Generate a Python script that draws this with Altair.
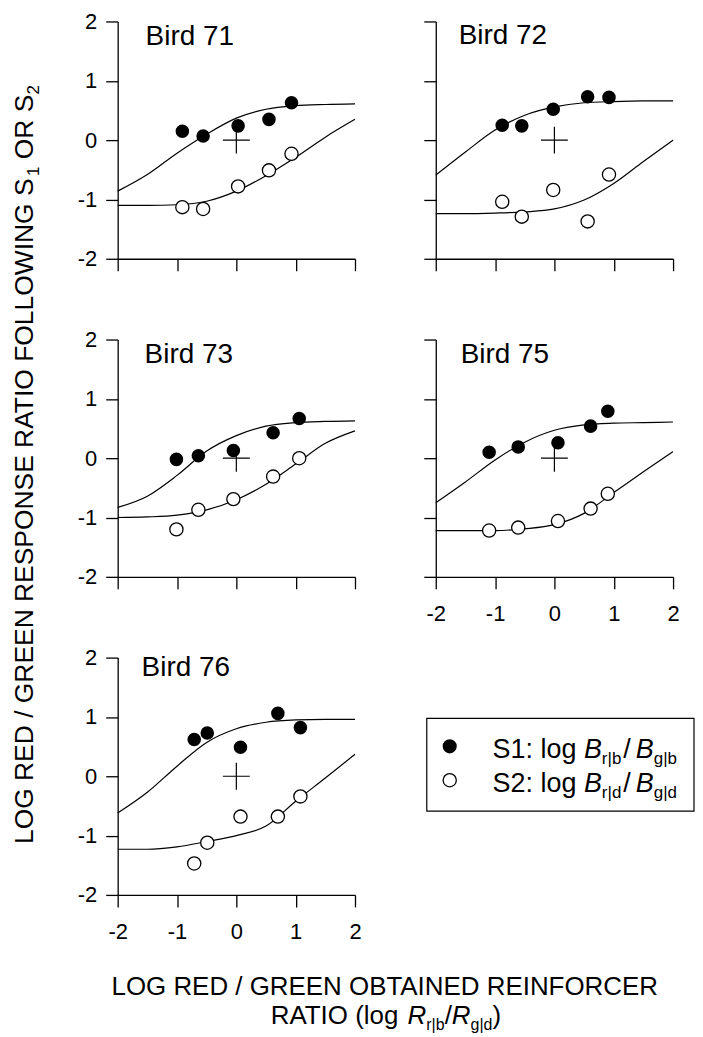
import altair as alt
import pandas as pd

FONT = "Liberation Sans"
W = 238
H = 238

# ---------------- data ----------------
curve_x = [-2.0, -1.5, -1.0, -0.5, 0.0, 0.5, 1.0, 1.5, 2.0]
ticks = [-2, -1, 0, 1, 2]
cross_x = [0.0]
cross_y = [0.0]

# Bird 71
x71 = [-0.91, -0.56, 0.03, 0.55, 0.93]
s1_71 = [0.15, 0.07, 0.24, 0.35, 0.63]
s2_71 = [-1.13, -1.16, -0.78, -0.51, -0.23]
fit1_71 = [-0.86, -0.58, -0.22, 0.10, 0.37, 0.52, 0.58, 0.60, 0.61]
fit2_71 = [-1.10, -1.10, -1.09, -1.03, -0.86, -0.60, -0.29, 0.05, 0.35]

# Bird 72
x72 = [-0.88, -0.55, -0.02, 0.56, 0.92]
s1_72 = [0.25, 0.24, 0.52, 0.73, 0.72]
s2_72 = [-1.04, -1.29, -0.84, -1.37, -0.58]
fit1_72 = [-0.59, -0.20, 0.17, 0.42, 0.56, 0.63, 0.65, 0.66, 0.66]
fit2_72 = [-1.24, -1.24, -1.23, -1.21, -1.16, -1.01, -0.73, -0.36, 0.00]

# Bird 73
x73 = [-1.01, -0.64, -0.05, 0.62, 1.06]
s1_73 = [-0.02, 0.04, 0.13, 0.43, 0.67]
s2_73 = [-1.20, -0.87, -0.69, -0.31, 0.00]
fit1_73 = [-0.83, -0.64, -0.29, 0.12, 0.38, 0.54, 0.60, 0.62, 0.63]
fit2_73 = [-1.00, -0.99, -0.96, -0.87, -0.70, -0.44, -0.10, 0.25, 0.46]

# Bird 75
x75 = [-1.10, -0.61, 0.06, 0.61, 0.90]
s1_75 = [0.10, 0.19, 0.26, 0.54, 0.79]
s2_75 = [-1.22, -1.17, -1.06, -0.85, -0.60]
fit1_75 = [-0.75, -0.40, -0.03, 0.27, 0.47, 0.56, 0.59, 0.60, 0.61]
fit2_75 = [-1.22, -1.22, -1.22, -1.19, -1.12, -0.93, -0.58, -0.23, 0.11]

# Bird 76
x76 = [-0.71, -0.49, 0.07, 0.70, 1.08]
s1_76 = [0.62, 0.73, 0.49, 1.06, 0.82]
s2_76 = [-1.47, -1.12, -0.68, -0.68, -0.34]
fit1_76 = [-0.62, -0.27, 0.17, 0.57, 0.80, 0.91, 0.95, 0.96, 0.96]
fit2_76 = [-1.23, -1.23, -1.19, -1.10, -1.00, -0.84, -0.42, -0.03, 0.37]

# ---------------- text helpers (Arial / Liberation Sans advance widths) ----------------
WID = {
    "A": .667, "B": .667, "C": .722, "D": .722, "E": .667, "F": .611, "G": .778, "H": .722,
    "I": .278, "J": .5, "K": .667, "L": .556, "M": .833, "N": .722, "O": .778, "P": .667,
    "Q": .778, "R": .722, "S": .667, "T": .611, "U": .722, "V": .667, "W": .944, "X": .667,
    "Y": .667, "Z": .611,
    "a": .556, "b": .556, "c": .5, "d": .556, "e": .556, "f": .278, "g": .556, "h": .556,
    "i": .222, "j": .222, "k": .5, "l": .222, "m": .833, "n": .556, "o": .556, "p": .556,
    "q": .556, "r": .333, "s": .5, "t": .278, "u": .556, "v": .5, "w": .722, "x": .5,
    "y": .5, "z": .5, " ": .278, "/": .278, "(": .333, ")": .333, ":": .278, "|": .26,
    "-": .333, ".": .278,
}
for d in "0123456789":
    WID[d] = .556


def tw(text, size):
    return sum(WID.get(c, .556) for c in text) * size


def _mk(t, s, it, angle=None):
    mk = dict(align="left", baseline="alphabetic", font=FONT, fontSize=s,
              fontStyle="italic" if it else "normal", color="black")
    if angle is not None:
        mk["angle"] = angle
    return alt.Chart(pd.DataFrame({"t": [t]})).mark_text(**mk)


def rich(pieces, x0, y0, center=False):
    """Horizontal run of pieces: (text, fontSize, italic, subscriptOffset, extraGapAfter)."""
    total = sum(tw(p[0], p[1]) + p[4] for p in pieces)
    pos = (x0 - total / 2) if center else x0
    layers = []
    for t, s, it, dy, gap in pieces:
        lead = len(t) - len(t.lstrip(" "))
        core = t.strip(" ")
        start = pos + tw(" " * lead, s)
        layers.append(_mk(core, s, it).encode(text="t:N", x=alt.value(start),
                                              y=alt.value(y0 + dy)))
        pos += tw(t, s) + gap
    return layers


def rich_vertical(pieces, xb, ystart):
    """Text reading bottom-to-top (angle 270); subscripts shift to the right."""
    layers = []
    pos = ystart
    for t, s, it, dx, gap in pieces:
        lead = len(t) - len(t.lstrip(" "))
        core = t.strip(" ")
        start = pos - tw(" " * lead, s)
        layers.append(_mk(core, s, it, angle=270).encode(text="t:N", x=alt.value(xb + dx),
                                                         y=alt.value(start)))
        pos -= tw(t, s) + gap
    return layers


CROSS = "M-1,0L1,0M0,-1L0,1"


def panel(name, xs, s1, s2, f1, f2, xlab, ylab, tdx, tdy, extra=None):
    xsc = alt.Scale(domain=[-2, 2], nice=False, zero=False)
    ysc = alt.Scale(domain=[-2, 2], nice=False, zero=False)
    X = alt.X("x:Q", scale=xsc,
              axis=alt.Axis(values=ticks, labels=xlab, title=None, grid=False,
                            labelFlush=False, labelExpr="'' + datum.value"))
    Y = alt.Y("y:Q", scale=ysc,
              axis=alt.Axis(values=ticks, labels=ylab, title=None, grid=False,
                            labelExpr="'' + datum.value"))
    n = len(curve_x)
    fits = pd.DataFrame({"x": curve_x + curve_x, "y": f1 + f2,
                         "s": ["S1"] * n + ["S2"] * n})
    d1 = pd.DataFrame({"x": xs, "y": s1})
    d2 = pd.DataFrame({"x": xs, "y": s2})
    dc = pd.DataFrame({"x": cross_x, "y": cross_y})

    lines = alt.Chart(fits).mark_line(
        interpolate="monotone", color="black", strokeWidth=1.2
    ).encode(x=X, y=Y, detail="s:N")
    cross = alt.Chart(dc).mark_point(
        shape=CROSS, size=729, filled=False, color="black", strokeWidth=1.2, opacity=1
    ).encode(x=X, y=Y)
    opn = alt.Chart(d2).mark_circle(
        size=175, fill="white", stroke="black", strokeWidth=1.3, opacity=1
    ).encode(x=X, y=Y)
    fil = alt.Chart(d1).mark_circle(size=185, color="black", opacity=1).encode(x=X, y=Y)
    title = alt.Chart(pd.DataFrame({"t": [name]})).mark_text(
        align="left", baseline="alphabetic", font=FONT, fontSize=28, color="black"
    ).encode(text="t:N", x=alt.value(tdx), y=alt.value(tdy))
    layers = [lines, cross, opn, fil, title]
    if extra:
        layers += extra
    return alt.layer(*layers).properties(width=W, height=H)


# invisible anchor fixing the top-left extent of the figure
anchor = alt.Chart(pd.DataFrame({"a": [0]})).mark_rect(opacity=0).encode(
    x=alt.value(-110), x2=alt.value(-109), y=alt.value(-12), y2=alt.value(-11)
)

# y-axis title (drawn in the Bird 73 panel)
ytitle = rich_vertical(
    [("LOG RED / GREEN RESPONSE RATIO FOLLOWING S", 26.5, False, 0, 0),
     ("1", 17, False, 6, 0),
     (" OR S", 26.5, False, 0, 0),
     ("2", 17, False, 6, 0)],
    -85, 126 + 380,
)

# x-axis title (drawn in the Bird 76 panel)
xtitle = rich([("LOG RED / GREEN OBTAINED REINFORCER", 26, False, 0, 0)], 269, 338, center=True)
xtitle += rich(
    [("RATIO (log ", 26, False, 0, 0), ("R", 26, True, 0, 0), ("r|b", 16, False, 6, 0),
     ("/", 26, False, 0, 0), ("R", 26, True, 0, 0), ("g|d", 16, False, 6, 0),
     (")", 26, False, 0, 0)],
    269, 367, center=True,
)

p71 = panel("Bird 71", x71, s1_71, s2_71, fit1_71, fit2_71, False, True, 28, 24, [anchor])
p72 = panel("Bird 72", x72, s1_72, s2_72, fit1_72, fit2_72, False, False, 23, 23)
p73 = panel("Bird 73", x73, s1_73, s2_73, fit1_73, fit2_73, False, True, 27, 24, ytitle)
p75 = panel("Bird 75", x75, s1_75, s2_75, fit1_75, fit2_75, True, False, 25, 24)
p76 = panel("Bird 76", x76, s1_76, s2_76, fit1_76, fit2_76, True, True, 24, 18, xtitle)

# legend panel
box = alt.Chart(pd.DataFrame({"a": [0]})).mark_rect(
    fill="white", stroke="black", strokeWidth=1.2
).encode(x=alt.value(-9), x2=alt.value(259), y=alt.value(61), y2=alt.value(154))
ldot1 = alt.Chart(pd.DataFrame({"a": [0]})).mark_circle(size=200, color="black", opacity=1).encode(
    x=alt.value(14), y=alt.value(89))
ldot2 = alt.Chart(pd.DataFrame({"a": [0]})).mark_circle(
    size=175, fill="white", stroke="black", strokeWidth=1.3, opacity=1
).encode(x=alt.value(14), y=alt.value(123))
leg1 = rich([("S1: log ", 27, False, 0, 0), ("B", 27, True, 0, 0), ("r|b", 17, False, 6, 2),
             ("/", 27, False, 0, 5), ("B", 27, True, 0, 0), ("g|b", 17, False, 6, 0)], 57, 101)
leg2 = rich([("S2: log ", 27, False, 0, 0), ("B", 27, True, 0, 0), ("r|d", 17, False, 6, 2),
             ("/", 27, False, 0, 5), ("B", 27, True, 0, 0), ("g|d", 17, False, 6, 0)], 57, 135)
legend = alt.layer(box, ldot1, ldot2, *leg1, *leg2).properties(width=W, height=H)

chart = alt.concat(
    p71, p72, p73, p75, p76, legend, columns=2, spacing=81, bounds="flush"
).properties(
    padding=0, autosize=alt.AutoSizeParams(type="pad"), background="white"
).configure_view(stroke=None).configure_axis(
    domainColor="black", domainWidth=1.3, tickColor="black", tickWidth=1.3,
    tickSize=12, labelFont=FONT, labelFontSize=22, labelColor="black", grid=False,
).configure_axisX(labelPadding=15).configure_axisY(labelPadding=9)

chart.save("out.html", embed_options={"renderer": "svg", "actions": False})
